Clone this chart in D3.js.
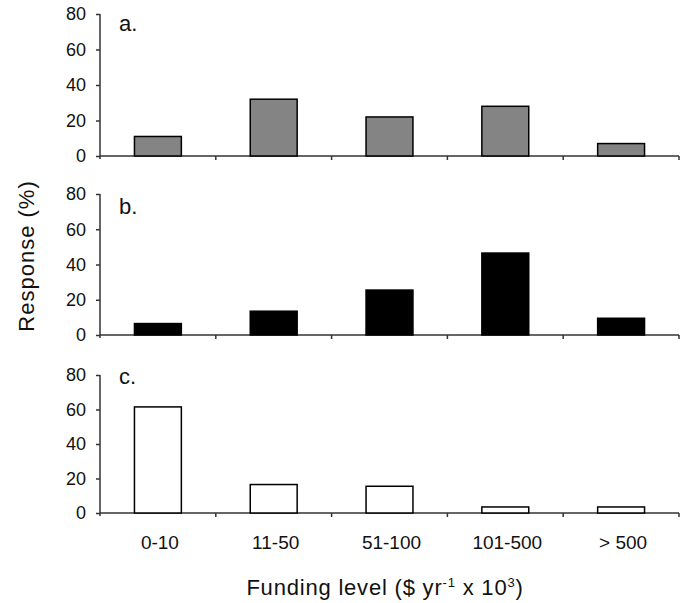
<!DOCTYPE html>
<html>
<head>
<meta charset="utf-8">
<script src="https://cdn.jsdelivr.net/npm/d3@7"></script>
<style>
  body { margin: 0; background: #fff; }
  svg text { font-family: "Liberation Sans", Arial, Helvetica, sans-serif; fill: #111; }
  .axis path, .axis line { stroke: #333; stroke-width: 1.5; }
</style>
</head>
<body>
<svg width="689" height="603"></svg>
<script>
// datos
const categorias = ["0-10", "11-50", "51-100", "101-500", "> 500"]
const serieA = [11, 32, 22, 28, 7]
const serieB = [6.5, 13.5, 25.5, 46.5, 9.5]
const serieC = [61.5, 16.5, 15.5, 3.5, 3.5]
const yTicks = [0, 20, 40, 60, 80]
const etiquetas = ["a.", "b.", "c."]

// layout de cada panel
let paneles = [
  {valores: serieA, top: 14, bottom: 156, fill: "#848484", lab: etiquetas[0], labY: 31},
  {valores: serieB, top: 194, bottom: 335, fill: "#000", lab: etiquetas[1], labY: 214},
  {valores: serieC, top: 375, bottom: 513, fill: "#fff", lab: etiquetas[2], labY: 384}
]

let svg = d3.select("svg")
let left = 100, right = 679

let x = d3.scaleBand()
  .domain(categorias)
  .range([left, right])
  .paddingInner(0.595)
  .paddingOuter(0.2975)

// bordes de las bandas para los ticks del eje x
let bordes = d3.range(categorias.length + 1).map(i => left + i * x.step())

paneles.forEach(p => {
  let y = d3.scaleLinear().domain([0, 80]).range([p.bottom, p.top])
  let g = svg.append("g")

  // eje y
  g.append("g")
    .attr("class", "axis")
    .attr("transform", `translate(${left},0)`)
    .call(d3.axisLeft(y).tickValues(yTicks).tickSize(4).tickPadding(10).tickSizeOuter(0))
    .call(a => a.selectAll("text").style("font-size", "18px"))
    .call(a => a.select(".domain").attr("d", `M0,${p.top}V${p.bottom + 3}`))

  // eje x
  let ax = g.append("g").attr("class", "axis")
  ax.append("line")
    .attr("x1", left).attr("x2", right)
    .attr("y1", p.bottom).attr("y2", p.bottom)
  ax.selectAll("line.tick")
    .data(bordes.slice(1))
    .enter().append("line")
    .attr("class", "tick")
    .attr("x1", d => d).attr("x2", d => d)
    .attr("y1", p.bottom).attr("y2", p.bottom + 4)

  // barras
  g.selectAll("rect")
    .data(p.valores)
    .enter().append("rect")
    .attr("x", (d, i) => x(categorias[i]))
    .attr("width", x.bandwidth())
    .attr("y", d => y(d))
    .attr("height", d => y(0) - y(d))
    .attr("fill", p.fill)
    .attr("stroke", "#000")
    .attr("stroke-width", 1.5)

  g.append("text")
    .attr("x", 119).attr("y", p.labY)
    .style("font-size", "22px")
    .text(p.lab)
})

// etiquetas de categorias
svg.append("g").selectAll("text")
  .data(categorias)
  .enter().append("text")
  .attr("x", d => x(d) + x.bandwidth() / 2 + 2)
  .attr("y", 549)
  .attr("text-anchor", "middle")
  .style("font-size", "19px")
  .text(d => d)

// titulo eje x
let tx = svg.append("text")
  .attr("x", 385).attr("y", 595)
  .attr("text-anchor", "middle")
  .style("font-size", "22px")
  .style("letter-spacing", "0.8px")
tx.append("tspan").text("Funding level ($ yr")
tx.append("tspan").attr("dy", -8).style("font-size", "13px").text("-1")
tx.append("tspan").attr("dy", 8).text(" x 10")
tx.append("tspan").attr("dy", -8).style("font-size", "13px").text("3")
tx.append("tspan").attr("dy", 8).text(")")

// titulo eje y
svg.append("text")
  .attr("transform", "translate(34,256) rotate(-90)")
  .attr("text-anchor", "middle")
  .style("font-size", "22px")
  .style("letter-spacing", "1px")
  .text("Response (%)")
</script>
</body>
</html>
